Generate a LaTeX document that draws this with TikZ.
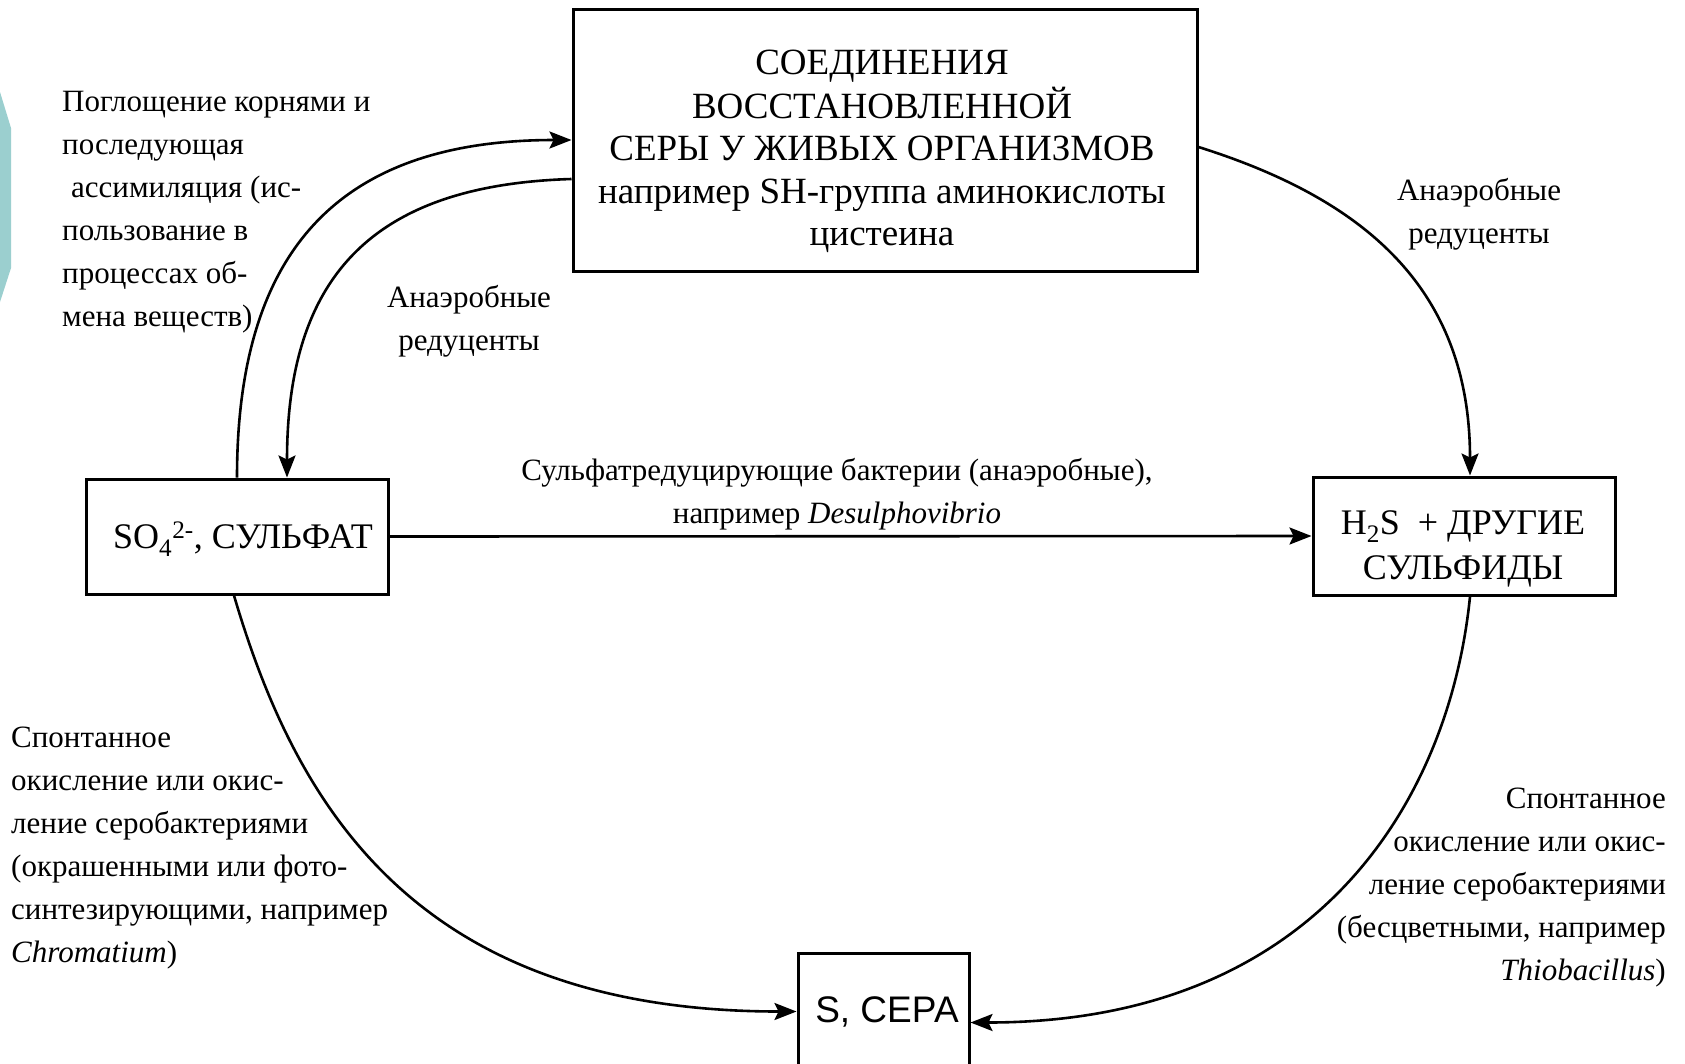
\documentclass[tikz,border=0pt]{standalone}
\usepackage{fontspec}
\setmainfont{Liberation Serif}
\newfontfamily\sansf{Liberation Sans}
\usetikzlibrary{arrows.meta}
\definecolor{sideteal}{RGB}{155,207,207}
\begin{document}
\begin{tikzpicture}[x=1pt,y=-1pt,
  boxnode/.style={draw=black,line width=3pt,rectangle,inner sep=0pt},
  bigtxt/.style={inner sep=0pt,font=\fontsize{37}{42.5}\selectfont},
  midtxt/.style={inner sep=0pt,font=\fontsize{36}{45}\selectfont},
  labtxt/.style={inner sep=0pt,font=\fontsize{31}{43}\selectfont},
  conn/.style={line width=2.6pt,-{Stealth[length=22pt,width=17pt,inset=4pt]}}]
\useasboundingbox (0,0) rectangle (1685,1063);
\fill[white] (0,0) rectangle (1685,1063);
\fill[sideteal] (0,92) -- (11,128) -- (11,268) -- (0,302) -- cycle;

% boxes
\node[boxnode,minimum width=624pt,minimum height=262pt] (top) at (885,140) {};
\node[boxnode,minimum width=302pt,minimum height=115pt] (so4) at (237,536.5) {};
\node[boxnode,minimum width=302pt,minimum height=118pt] (h2s) at (1464,536) {};
\node[boxnode,minimum width=171pt,minimum height=117pt] (s) at (883.5,1011.5) {};

% box texts
\node[bigtxt,anchor=base] (toptxt) at (882,74) {\begin{tabular}[t]{@{}c@{}}
СОЕДИНЕНИЯ\\
ВОССТАНОВЛЕННОЙ\\
СЕРЫ У ЖИВЫХ ОРГАНИЗМОВ\\
например SH-группа аминокислоты\\
цистеина\end{tabular}};
\node[midtxt,anchor=base] (so4txt) at (243,548) {SO\textsubscript{4}\textsuperscript{2-}, СУЛЬФАТ};
\node[midtxt,anchor=base] (h2stxt) at (1463,534) {\begin{tabular}[t]{@{}c@{}}
H\textsubscript{2}S \ + ДРУГИЕ\\
СУЛЬФИДЫ\end{tabular}};
\node[inner sep=0pt,font=\sansf\fontsize{37}{44}\selectfont,anchor=base] (stxt) at (887,1022) {S, СЕРА};

% labels
\node[labtxt,anchor=base west] (labA) at (62,111) {\begin{tabular}[t]{@{}l@{}}
Поглощение корнями и\\
последующая\\
\hspace{9pt}ассимиляция (ис-\\
пользование в\\
процессах об-\\
мена веществ)\end{tabular}};
\node[labtxt,anchor=base] (labB) at (469,307) {\begin{tabular}[t]{@{}c@{}}
Анаэробные\\
редуценты\end{tabular}};
\node[labtxt,anchor=base] (labC) at (1479,200) {\begin{tabular}[t]{@{}c@{}}
Анаэробные\\
редуценты\end{tabular}};
\node[labtxt,anchor=base] (labD) at (837,480) {\begin{tabular}[t]{@{}c@{}}
Сульфатредуцирующие бактерии (анаэробные),\\
например \textit{Desulphovibrio}\end{tabular}};
\node[labtxt,anchor=base west] (labE) at (11,747) {\begin{tabular}[t]{@{}l@{}}
Спонтанное\\
окисление или окис-\\
ление серобактериями\\
(окрашенными или фото-\\
синтезирующими, например\\
\textit{Chromatium})\end{tabular}};
\node[labtxt,anchor=base east] (labF) at (1666,808) {\begin{tabular}[t]{@{}r@{}}
Спонтанное\\
окисление или окис-\\
ление серобактериями\\
(бесцветными, например\\
\textit{Thiobacillus})\end{tabular}};

% connectors
\draw[conn] (so4.north) .. controls +(0,-230) and +(-230,0) .. (top.west);
\draw[conn] ([yshift=-39pt]top.west) .. controls +(-200,6) and +(0,-200) .. ([xshift=50pt]so4.north);
\draw[conn] ([yshift=-7pt]top.east) .. controls +(162,51) and +(0,-190) .. ([xshift=6pt]h2s.north);
\draw[conn] (so4.east) -- (h2s.west);
\draw[conn] ([xshift=-3pt]so4.south) .. controls +(62,211) and +(-380,0) .. (s.west);
\draw[conn] ([xshift=6pt]h2s.south) .. controls +(-20,200) and +(350,0) .. ([yshift=-11pt]s.east);
\end{tikzpicture}
\end{document}
